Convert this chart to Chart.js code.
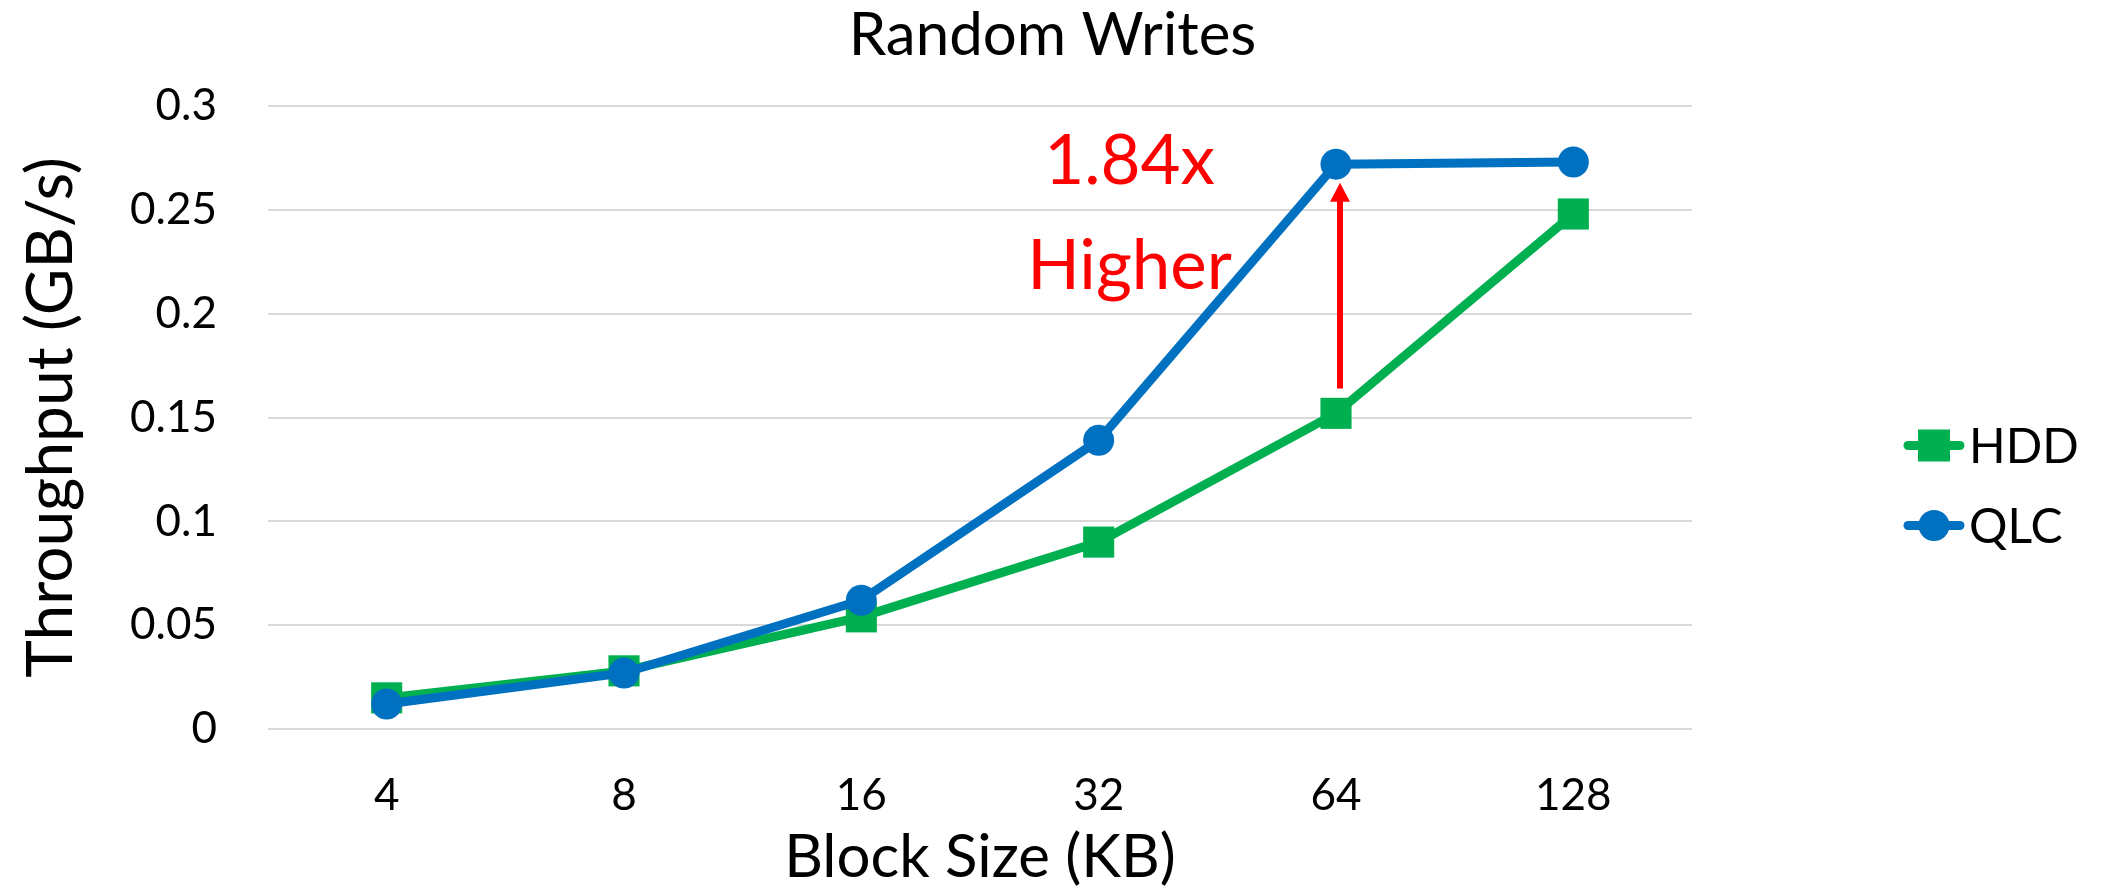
<!DOCTYPE html>
<html>
<head>
<meta charset="utf-8">
<script src="https://cdn.jsdelivr.net/npm/chart.js@4.4.1/dist/chart.umd.min.js"></script>
<style>
  html, body { margin: 0; padding: 0; background: #fff; }
  #wrap { width: 2105px; height: 896px; }
</style>
</head>
<body>
<div id="wrap"><canvas id="chart" width="2105" height="896"></canvas></div>
<script>
// data
var blockSizes = ['4', '8', '16', '32', '64', '128'];
var hddValues = [0.015, 0.028, 0.054, 0.090, 0.152, 0.248];
var qlcValues = [0.012, 0.027, 0.062, 0.139, 0.272, 0.273];
var yTicks = [0, 0.05, 0.1, 0.15, 0.2, 0.25, 0.3];

// annotation: arrow at the 64KB point and its label
var arrowCategory = 4;
var arrowFrom = 0.164;
var arrowTo = 0.263;
var noteLines = ['1.84x', 'Higher'];
var noteValues = [0.2625, 0.212];

var green = '#00B050';
var blue = '#0070C0';
var red = '#FF0000';
var FONT = 'Lato, "Open Sans", sans-serif';

// red "1.84x Higher" text, drawn below the lines
var notePlugin = {
    id: 'note',
    beforeDatasetsDraw: function (chart) {
        var ctx = chart.ctx;
        var x = chart.scales.x;
        var y = chart.scales.y;
        var step = x.getPixelForValue(1) - x.getPixelForValue(0);
        var cx = x.getPixelForValue(3) + step * 0.13;
        ctx.save();
        ctx.fillStyle = red;
        ctx.font = '69px ' + FONT;
        ctx.textAlign = 'center';
        ctx.textBaseline = 'alphabetic';
        for (var i = 0; i < noteLines.length; i++) {
            ctx.fillText(noteLines[i], cx, y.getPixelForValue(noteValues[i]));
        }
        ctx.restore();
    },
    afterDatasetsDraw: function (chart) {
        var ctx = chart.ctx;
        var x = chart.scales.x;
        var y = chart.scales.y;
        var ax = x.getPixelForValue(arrowCategory) + 4;
        var y1 = y.getPixelForValue(arrowFrom);
        var y2 = y.getPixelForValue(arrowTo);
        ctx.save();
        ctx.strokeStyle = red;
        ctx.fillStyle = red;
        ctx.lineWidth = 6;
        ctx.beginPath();
        ctx.moveTo(ax, y1);
        ctx.lineTo(ax, y2 + 16);
        ctx.stroke();
        ctx.beginPath();
        ctx.moveTo(ax, y2);
        ctx.lineTo(ax - 10, y2 + 19);
        ctx.lineTo(ax + 10, y2 + 19);
        ctx.closePath();
        ctx.fill();
        ctx.restore();
    }
};

// legend to the right: short line with the marker on it, then the name
var legendPlugin = {
    id: 'sideLegend',
    afterDraw: function (chart) {
        var ctx = chart.ctx;
        var items = chart.data.datasets;
        var x0 = chart.chartArea.right + 212;
        var yMid = (chart.chartArea.top + chart.chartArea.bottom) / 2;
        var rowY = [yMid + 28, yMid + 108];
        ctx.save();
        for (var i = 0; i < items.length; i++) {
            var ds = items[i];
            var yy = rowY[i];
            ctx.strokeStyle = ds.borderColor;
            ctx.fillStyle = ds.borderColor;
            ctx.lineWidth = 9;
            ctx.lineCap = 'round';
            ctx.beginPath();
            ctx.moveTo(x0 + 4, yy);
            ctx.lineTo(x0 + 56, yy);
            ctx.stroke();
            if (ds.pointStyle === 'rect') {
                ctx.fillRect(x0 + 14, yy - 16, 32, 32);
            } else {
                ctx.beginPath();
                ctx.arc(x0 + 30, yy, 15.5, 0, Math.PI * 2);
                ctx.fill();
            }
            ctx.fillStyle = '#000';
            ctx.font = '48px ' + FONT;
            ctx.textAlign = 'left';
            ctx.textBaseline = 'middle';
            ctx.fillText(ds.label, x0 + 65, yy + 2);
        }
        ctx.restore();
    }
};

var ctx = document.getElementById('chart').getContext('2d');
var chart = new Chart(ctx, {
    type: 'line',
    data: {
        labels: blockSizes,
        datasets: [{
            label: 'HDD',
            data: hddValues,
            borderColor: green,
            backgroundColor: green,
            borderWidth: 9,
            pointStyle: 'rect',
            pointRadius: 22,
            pointBorderWidth: 0,
            order: 1
        }, {
            label: 'QLC',
            data: qlcValues,
            borderColor: blue,
            backgroundColor: blue,
            borderWidth: 9,
            pointStyle: 'circle',
            pointRadius: 15.5,
            pointBorderWidth: 0,
            order: 0
        }]
    },
    options: {
        responsive: false,
        animation: false,
        events: [],
        layout: {
            padding: 0
        },
        scales: {
            x: {
                offset: true,
                grid: { display: false, drawTicks: false },
                border: { display: false },
                ticks: { color: '#000', font: { family: FONT, size: 44 }, padding: 40 },
                title: {
                    display: true,
                    text: 'Block Size (KB)',
                    color: '#000',
                    font: { family: FONT, size: 60 },
                    padding: { top: 0, bottom: 2 }
                },
                afterFit: function (scale) { scale.height = 167; }
            },
            y: {
                min: 0,
                max: 0.3,
                afterBuildTicks: function (scale) {
                    scale.ticks = yTicks.map(function (v) { return { value: v }; });
                },
                grid: { color: '#D9D9D9', lineWidth: 2, drawTicks: false },
                border: { display: false },
                ticks: {
                    color: '#000',
                    font: { family: FONT, size: 44 },
                    padding: 51,
                    callback: function (v) { return String(Number(v.toFixed(2))); }
                },
                title: {
                    display: true,
                    text: 'Throughput (GB/s)',
                    color: '#000',
                    font: { family: FONT, size: 64 },
                    padding: { top: 13, bottom: 0 }
                },
                afterFit: function (scale) { scale.width = 268; }
            },
            // empty right-hand axis that only keeps room for the legend
            side: {
                position: 'right',
                display: true,
                grid: { display: false, drawTicks: false },
                border: { display: false },
                ticks: { display: false },
                afterFit: function (scale) { scale.width = 413; }
            }
        },
        plugins: {
            legend: { display: false },
            tooltip: { enabled: false },
            title: {
                display: true,
                text: 'Random Writes',
                color: '#000',
                font: { family: FONT, size: 60, weight: 'normal' },
                padding: { top: 0, bottom: 34 }
            }
        }
    },
    plugins: [notePlugin, legendPlugin]
});
</script>
</body>
</html>
